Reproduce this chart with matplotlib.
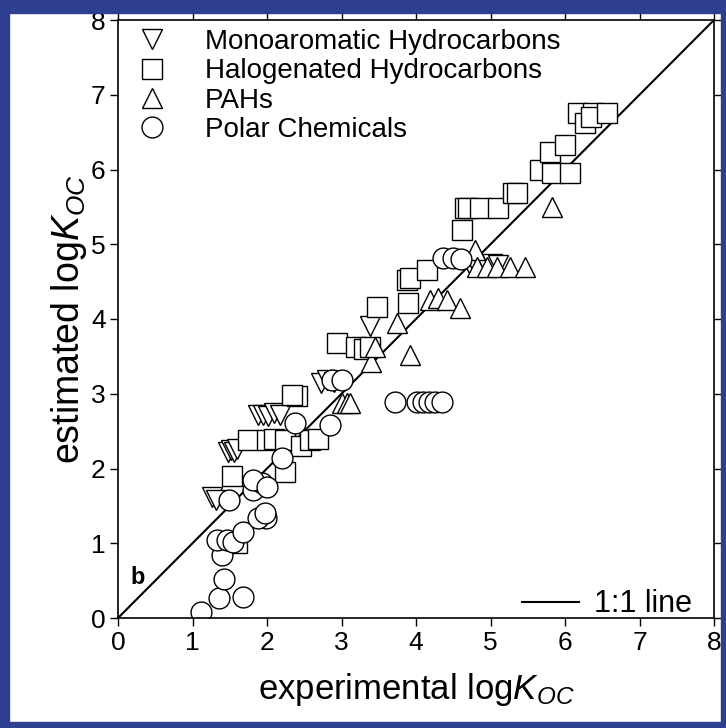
import matplotlib.pyplot as plt
from matplotlib.lines import Line2D
from matplotlib.patches import Rectangle

plt.rcParams['font.family'] = ['Liberation Sans', 'DejaVu Sans']
plt.rcParams['mathtext.fontset'] = 'custom'
plt.rcParams['mathtext.rm'] = 'Liberation Sans'
plt.rcParams['mathtext.it'] = 'Liberation Sans:italic'

# monoaromatic hydrocarbons
mono_x = [1.26, 1.32, 1.48, 1.52, 1.56, 1.60, 1.88, 1.95, 2.02, 2.10, 2.18,
          2.72, 2.80, 2.90, 3.38, 4.72, 4.80, 4.88, 4.95, 5.02, 5.10]
mono_y = [1.62, 1.58, 2.22, 2.25, 2.22, 2.26, 2.72, 2.72, 2.70, 2.74, 2.72,
          3.14, 3.18, 3.16, 3.90, 4.72, 4.70, 4.72, 4.70, 4.74, 4.72]
# halogenated hydrocarbons
halo_x = [1.53, 1.60, 1.75, 2.00, 2.10, 2.24, 2.45, 2.58, 2.68, 2.24, 2.40,
          2.33, 2.94, 3.20, 3.30, 3.38, 3.48, 3.88, 3.89, 3.92, 4.15, 4.62,
          4.66, 4.70, 4.86, 5.10, 5.30, 5.35, 5.66, 5.80, 5.83, 6.00, 6.07,
          6.17, 6.27, 6.38, 6.35, 6.56]
halo_y = [1.90, 1.00, 2.38, 2.38, 2.40, 2.38, 2.30, 2.38, 2.40, 1.95, 2.97,
          2.98, 3.68, 3.63, 3.60, 3.63, 4.16, 4.52, 4.21, 4.55, 4.66, 5.19,
          5.48, 5.48, 5.48, 5.48, 5.68, 5.68, 5.99, 6.23, 5.95, 6.33, 5.95,
          6.76, 6.62, 6.76, 6.70, 6.76]
# PAHs
pah_x = [3.00, 3.08, 3.12, 3.40, 3.45, 3.74, 3.92, 4.19, 4.30, 4.41, 4.59,
         4.79, 4.82, 4.95, 5.09, 5.26, 5.46, 5.83]
pah_y = [2.88, 2.88, 2.88, 3.43, 3.62, 3.95, 3.52, 4.25, 4.28, 4.25, 4.15,
         4.92, 4.70, 4.70, 4.70, 4.70, 4.70, 5.50]
# polar chemicals
polar_x = [1.11, 1.36, 1.68, 1.42, 1.39, 1.33, 1.46, 1.54, 1.68, 1.99, 1.88,
           1.97, 1.49, 1.81, 1.93, 1.81, 2.00, 2.20, 2.38, 2.85, 2.87, 3.00,
           3.72, 4.02, 4.10, 4.18, 4.26, 4.35, 4.36, 4.50, 4.60]
polar_y = [0.08, 0.27, 0.28, 0.52, 0.84, 1.04, 1.04, 1.02, 1.15, 1.34, 1.34,
           1.40, 1.58, 1.71, 1.81, 1.85, 1.75, 2.14, 2.61, 2.58, 3.18, 3.18,
           2.89, 2.89, 2.89, 2.89, 2.89, 2.89, 4.82, 4.82, 4.80]

labels = ['Monoaromatic Hydrocarbons', 'Halogenated Hydrocarbons', 'PAHs',
          'Polar Chemicals']

fig = plt.figure(figsize=(7.26, 7.28), dpi=100)
ax = fig.add_axes([118/726, 1-618/728, 596/726, 598/728])

ms = 15
kw = dict(ls='none', mfc='white', mec='black', mew=1.0)
ax.plot([0, 8], [0, 8], color='black', lw=1.5, zorder=1)
ax.plot(mono_x, mono_y, marker='v', ms=ms, **kw)
ax.plot(halo_x, halo_y, marker='s', ms=ms - 1, **kw)
ax.plot(pah_x, pah_y, marker='^', ms=ms, **kw)
ax.plot(polar_x, polar_y, marker='o', ms=ms, **kw)

ax.set_xlim(0, 8)
ax.set_ylim(0, 8)
ax.set_xticks(range(9))
ax.set_yticks(range(9))
ax.tick_params(direction='out', length=6, width=1, labelsize=19, pad=3,
               top=True, right=True)
for s in ax.spines.values():
    s.set_linewidth(1.2)

ax.set_xlabel('experimental log$K_{OC}$', fontsize=25, labelpad=12)
ax.set_ylabel('estimated log$K_{OC}$', fontsize=27, labelpad=1)

handles = [Line2D([], [], marker=m, ms=ms, **kw) for m in ['v', 's', '^', 'o']]
leg1 = ax.legend(handles, labels, loc='upper left', bbox_to_anchor=(0.034, 0.985),
                 frameon=False, fontsize=20, handlelength=1.0, handletextpad=1.41,
                 labelspacing=0.12, borderaxespad=0, borderpad=0)
ax.add_artist(leg1)
ax.legend([Line2D([], [], color='black', lw=1.5)], ['1:1 line'],
          loc='center right', bbox_to_anchor=(0.963, 0.023), frameon=False,
          fontsize=22, handlelength=1.85, handletextpad=0.5,
          borderaxespad=0, borderpad=0)

ax.text(0.27, 0.54, 'b', fontsize=17, fontweight='bold', ha='center', va='center')

blue = '#2d3f8e'
for r in [(0, 0, 9/726, 1), (721/726, 0, 5/726, 1),
          (0, 1-13/728, 1, 13/728), (0, 0, 1, 6/728)]:
    fig.add_artist(Rectangle(r[:2], r[2], r[3], transform=fig.transFigure,
                             color=blue, zorder=10))

fig.savefig('out.png', dpi=100)
